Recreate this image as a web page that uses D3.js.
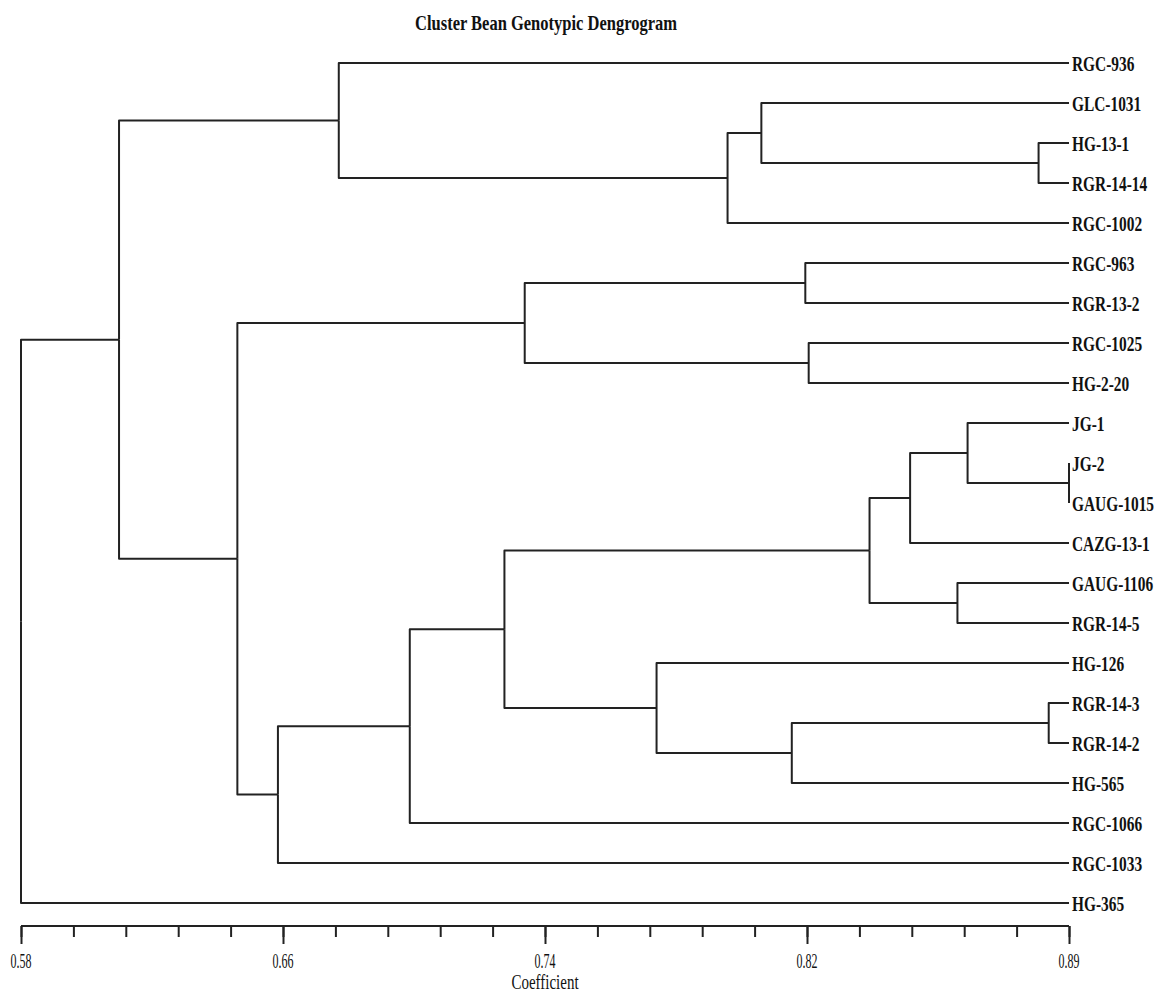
<!DOCTYPE html>
<html>
<head>
<meta charset="utf-8">
<script src="https://cdn.jsdelivr.net/npm/d3@7"></script>
<style>
  body { margin: 0; background: #fff; }
  text { font-family: "Liberation Serif", "Times New Roman", serif; fill: #111; }
</style>
</head>
<body>
<div id="chart"></div>
<script>
// leaf order, top to bottom
const genotypes = ["RGC-936", "GLC-1031", "HG-13-1", "RGR-14-14", "RGC-1002",
    "RGC-963", "RGR-13-2", "RGC-1025", "HG-2-20", "JG-1", "JG-2", "GAUG-1015",
    "CAZG-13-1", "GAUG-1106", "RGR-14-5", "HG-126", "RGR-14-3", "RGR-14-2",
    "HG-565", "RGC-1066", "RGC-1033", "HG-365"];

// linkage: [upper child, lower child, coefficient]; ids 0-21 are leaves, 22+ are the clusters below
const merges = [
    [10, 11, 0.890],
    [16, 17, 0.884],
    [2, 3, 0.881],
    [9, 22, 0.860],
    [13, 14, 0.857],
    [25, 12, 0.843],
    [27, 26, 0.831],
    [7, 8, 0.813],
    [5, 6, 0.812],
    [23, 18, 0.808],
    [1, 24, 0.799],
    [32, 4, 0.789],
    [15, 31, 0.768],
    [30, 29, 0.729],
    [28, 34, 0.723],
    [36, 19, 0.695],
    [0, 33, 0.674],
    [37, 20, 0.656],
    [35, 39, 0.644],
    [38, 40, 0.609],
    [41, 21, 0.580]
];

const axisDomain = [0.58, 0.89];
const axisLabels = ["0.58", "0.66", "0.74", "0.82", "0.89"];

const width = 1158;
const height = 993;
const firstLeafY = 63;
const leafGap = 40;

const svg = d3.select("#chart").append("svg")
    .attr("width", width)
    .attr("height", height);

svg.append("rect")
    .attr("width", width)
    .attr("height", height)
    .attr("fill", "#fff");

const x = d3.scaleLinear().domain(axisDomain).range([21, 1069]);

// build the tree from the linkage table
const nodes = genotypes.map(d => ({ name: d, sim: axisDomain[1] }));
merges.forEach(m => nodes.push({ children: [nodes[m[0]], nodes[m[1]]], sim: m[2] }));

const root = d3.hierarchy(nodes[nodes.length - 1]);
d3.cluster()
    .nodeSize([leafGap, 1])
    .separation(() => 1)(root);

const x0 = root.leaves()[0].x;
const yPos = d => firstLeafY + d.x - x0;

// condensed text, like the original print
function label(str, px, py, size, sx, anchor, weight) {
    svg.append("g")
        .attr("transform", `translate(${px},${py}) scale(${sx},1)`)
        .append("text")
        .attr("text-anchor", anchor)
        .attr("font-size", size)
        .attr("font-weight", weight)
        .text(str);
}

// branches
svg.append("g")
    .selectAll("path")
    .data(root.links())
    .join("path")
    .attr("fill", "none")
    .attr("stroke", "#222")
    .attr("stroke-width", 2)
    .attr("stroke-linejoin", "round")
    .attr("d", l => `M${x(l.source.data.sim)},${yPos(l.source)}V${yPos(l.target)}H${x(l.target.data.sim)}`);

// leaf labels
root.leaves().forEach(d => {
    label(d.data.name, x(axisDomain[1]) + 3, yPos(d) + 7.5, 22, 0.7, "start", "bold");
});

// axis
const axisY = 926;
const minorTicks = d3.range(21).map(i => axisDomain[0] + i * (axisDomain[1] - axisDomain[0]) / 20);
const majorTicks = minorTicks.filter((d, i) => i % 5 === 0);

const axis = svg.append("g").attr("transform", `translate(0,${axisY})`);
axis.append("g")
    .call(d3.axisBottom(x).tickValues(minorTicks).tickSize(11).tickFormat(""))
    .call(g => g.select(".domain").remove());
axis.append("g")
    .call(d3.axisBottom(x).tickValues(majorTicks).tickSize(18).tickFormat(""))
    .call(g => g.select(".domain").attr("d", `M${x.range()[0]},0H${x.range()[1]}`));
axis.selectAll("line, path").attr("stroke", "#222").attr("stroke-width", 2);

majorTicks.forEach((t, i) => label(axisLabels[i], x(t), 968, 20, 0.6, "middle", "normal"));

label("Coefficient", (x.range()[0] + x.range()[1]) / 2, 989, 20, 0.75, "middle", "normal");
label("Cluster Bean Genotypic Dengrogram", 546, 30, 22, 0.75, "middle", "bold");
</script>
</body>
</html>
